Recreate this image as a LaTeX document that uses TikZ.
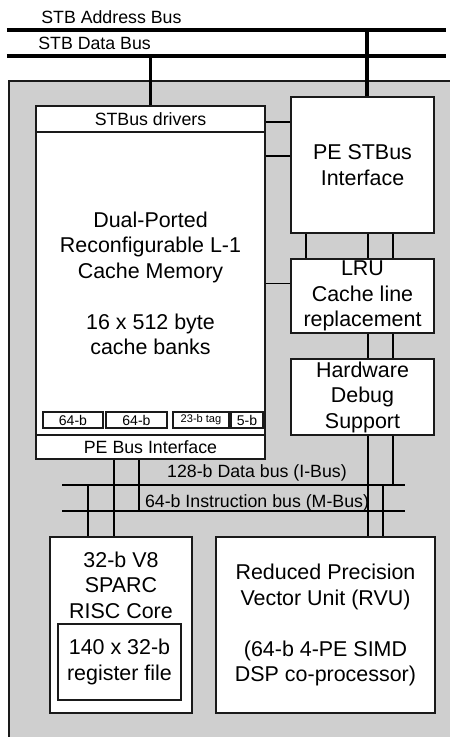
\documentclass[tikz,border=0pt]{standalone}
\usepackage{fontspec}
\setmainfont{Liberation Sans}
\usepackage{tikz}
\usetikzlibrary{positioning,calc}
\definecolor{chipc}{HTML}{CFCFCF}
\definecolor{edgec}{HTML}{1A1A1A}
\newcommand{\bigtxt}{\fontsize{12.2}{14.5}\selectfont}
\newcommand{\smalltxt}{\fontsize{10.1}{12}\selectfont}
\newcommand{\tinytxt}{\fontsize{8}{9.6}\selectfont}
\newcommand{\tagtxt}{\fontsize{6.3}{7.5}\selectfont}

\begin{document}
\begin{tikzpicture}[font=\bigtxt,box/.style={draw=edgec,fill=white,line width=.85pt,align=center,inner sep=0pt},lab/.style={font=\smalltxt,inner sep=0pt},bus/.style={line width=2.8pt,draw=black},tap/.style={line width=2.2pt,draw=black},wire/.style={line width=1.1pt,draw=black}]
\useasboundingbox (0,0) rectangle (9,-14.74);
\fill[chipc] (0.18,-1.62) rectangle (9,-14.74);
\draw[line width=.9pt,draw=edgec] (0.18,-14.74)|-(9,-1.62);
\coordinate (ab1) at (0.14,-0.6); \coordinate (ab2) at (8.92,-0.6);
\coordinate (db1) at (0.14,-1.12); \coordinate (db2) at (8.92,-1.12);
\draw[bus] (ab1)--(ab2); \draw[bus] (db1)--(db2);
\node[lab,anchor=west] (abl) at (0.82,-0.34) {STB Address Bus};
\node[lab,anchor=west] (dbl) at (0.76,-0.86) {STB Data Bus};
\node[box,minimum width=4.58cm,minimum height=.52cm,font=\smalltxt] (drv) at (3.01,-2.38) {STBus drivers};
\node[box,minimum width=4.58cm,minimum height=6.06cm] (cache) at (3.01,-5.67) {Dual-Ported\\Reconfigurable L-1\\Cache Memory\\[14.5pt]16 x 512 byte\\cache banks};
\node[box,minimum width=4.58cm,minimum height=.48cm,font=\smalltxt] (pbi) at (3.01,-8.94) {PE Bus Interface};
\node[box,minimum width=1.2cm,minimum height=.32cm,font=\tinytxt] (w1) at (1.46,-8.40) {64-b};
\node[box,minimum width=1.22cm,minimum height=.32cm,font=\tinytxt] (w2) at (2.73,-8.40) {64-b};
\node[box,minimum width=1.12cm,minimum height=.32cm,font=\tagtxt] (tag) at (4.02,-8.40) {23-b tag};
\node[box,minimum width=.64cm,minimum height=.32cm,font=\tinytxt] (w5) at (4.94,-8.40) {5-b};
\node[box,minimum width=2.86cm,minimum height=2.72cm] (pes) at (7.25,-3.30) {PE STBus\\Interface};
\node[box,minimum width=2.86cm,minimum height=1.48cm] (lru) at (7.25,-5.92) {LRU\\Cache line\\replacement};
\node[box,minimum width=2.86cm,minimum height=1.52cm] (hwd) at (7.25,-7.94) {Hardware\\Debug\\Support};
\node[box,minimum width=2.84cm,minimum height=3.52cm] (sparc) at (2.42,-12.5) {};
\node[align=center,inner sep=0pt] (core) at (2.42,-11.70) {32-b V8\\SPARC\\RISC Core};
\node[box,minimum width=2.46cm,minimum height=1.52cm] (reg) at (2.39,-13.24) {140 x 32-b\\register file};
\node[box,minimum width=4.38cm,minimum height=3.52cm] (rvu) at (6.51,-12.5) {Reduced Precision\\Vector Unit (RVU)\\[14.5pt](64-b 4-PE SIMD\\DSP co-processor)};
\coordinate (ib1) at (1.24,-9.70); \coordinate (ib2) at (8.10,-9.70);
\coordinate (mb1) at (1.24,-10.22); \coordinate (mb2) at (8.10,-10.22);
\draw[wire] (ib1)--(ib2); \draw[wire] (mb1)--(mb2);
\node[lab] (ibl) at (5.14,-9.46) {128-b Data bus (I-Bus)};
\node[lab] (mbl) at (5.14,-10.06) {64-b Instruction bus (M-Bus)};
\draw[tap] (drv.north)--(drv.north|-db1);
\draw[tap] ([xshift=.09cm]pes.north)--([xshift=.09cm]pes.north|-ab1);
\draw[wire] ([yshift=-.06cm]drv.east)--([yshift=-.06cm]drv.east-|pes.west);
\draw[wire] ([yshift=-.5cm]cache.north east)--([yshift=-.5cm]cache.north east-|pes.west);
\draw[wire] (cache.east)--(cache.east-|lru.west);
\foreach \dx in {-1.13,.11,.61} \draw[wire] ([xshift=\dx cm]pes.south)--([xshift=\dx cm]lru.north);
\foreach \dx in {.11,.61} \draw[wire] ([xshift=\dx cm]lru.south)--([xshift=\dx cm]hwd.north);
\draw[wire] ([xshift=.11cm]hwd.south)--([xshift=.11cm]hwd.south|-rvu.north);
\draw[wire] ([xshift=.61cm]hwd.south)--([xshift=.61cm]hwd.south|-ib1);
\draw[wire] ([xshift=1.15cm]rvu.north)--([xshift=1.15cm]rvu.north|-ib1);
\draw[wire] ([xshift=-.73cm]pbi.south)--([xshift=-.73cm]pbi.south|-sparc.north);
\draw[wire] ([xshift=-.23cm]pbi.south)--([xshift=-.23cm]pbi.south|-mb1);
\draw[wire] ([xshift=-.66cm]sparc.north)--([xshift=-.66cm]sparc.north|-ib1);
\end{tikzpicture}
\end{document}
